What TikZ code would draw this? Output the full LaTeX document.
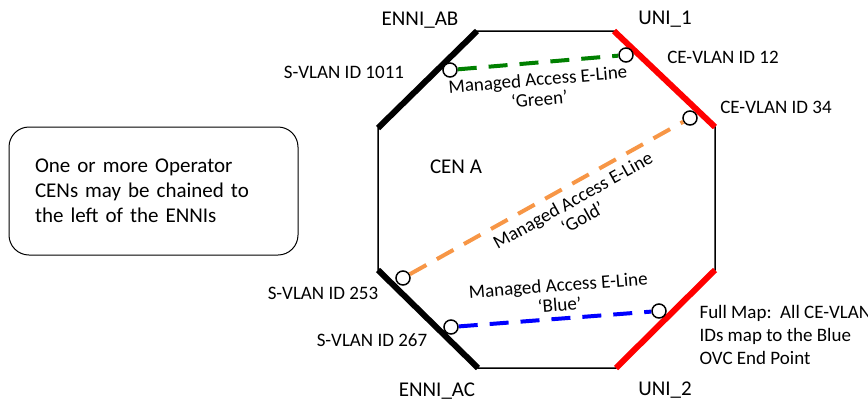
\documentclass[tikz,border=0pt]{standalone}
\usepackage{fontspec}
\setmainfont{Carlito}
\definecolor{gold}{RGB}{247,150,70}
\definecolor{evcgreen}{RGB}{0,128,0}

\begin{document}
\begin{tikzpicture}[x=1pt,y=-1pt,
    endpt/.style={circle,draw,fill=white,inner sep=0pt,minimum size=14pt,line width=1.5pt},
    evc/.style={line width=4pt,dash pattern=on 19pt off 12pt},
    ifc/.style={line width=6pt},
    lbl/.style={font=\fontsize{19}{20}\selectfont,text=black},
    big/.style={font=\fontsize{21}{24}\selectfont}]

\useasboundingbox (0,0) rectangle (868,400);

% corners of CEN A
\coordinate (LT) at (378,128);
\coordinate (TL) at (477,31);
\coordinate (TR) at (614,31);
\coordinate (RT) at (715,127);
\coordinate (RB) at (715,270);
\coordinate (BR) at (616,368);
\coordinate (BL) at (478,368);
\coordinate (LB) at (378,270);

\draw[line width=1.5pt] (LT) -- (TL) -- (TR) -- (RT) -- (RB) -- (BR) -- (BL) -- (LB) -- cycle;

% interfaces
\draw[ifc] (LT) -- (TL);
\draw[ifc,red] (TR) -- (RT);
\draw[ifc,red] (RB) -- (BR);
\draw[ifc] (LB) -- (BL);

% OVC end points
\node[endpt] (G1) at (450,70) {};
\node[endpt] (G2) at (626,55) {};
\node[endpt] (O1) at (403,278) {};
\node[endpt] (O2) at (690,118) {};
\node[endpt] (B1) at (451,327) {};
\node[endpt] (B2) at (659,311) {};

\path[every node/.style={lbl,align=center,sloped,inner sep=2pt}]
(G1) edge[evc,evcgreen] node[pos=0.49,below=6pt] {Managed Access E-Line\\‘Green’} (G2)
(O1) edge[evc,gold] node[pos=0.57,below=4pt] {Managed Access E-Line\\‘Gold’} (O2)
(B1) edge[evc,blue] node[pos=0.53,above=3pt] {Managed Access E-Line\\‘Blue’} (B2);

% labels
\node[big] (AB) at (420,20) {ENNI\_AB};
\node[big] (U1) at (665,19) {UNI\_1};
\node[big] (AC) at (437,391) {ENNI\_AC};
\node[big] (U2) at (665,390) {UNI\_2};
\node[big] (CEN) at (456,167) {CEN A};

\node[lbl] (V1011) at (344,72) {S-VLAN ID 1011};
\node[lbl] (V253) at (323,293) {S-VLAN ID 253};
\node[lbl] (V267) at (372,340) {S-VLAN ID 267};
\node[lbl] (C12) at (723,57) {CE-VLAN ID 12};
\node[lbl] (C34) at (776,107) {CE-VLAN ID 34};
\node[lbl,align=left,anchor=west,font=\fontsize{19}{23}\selectfont] (FM) at (696,335)
  {Full Map:\ \ All CE-VLAN\\IDs map to the Blue\\OVC End Point};

\node[draw,line width=1pt,rounded corners=20pt,minimum width=289pt,minimum height=128pt,
  text width=237pt,align=left,font=\fontsize{21}{25}\selectfont] (note) at (153.5,191)
  {One or more Operator\\CENs may be chained to\\the left of the ENNIs};

\end{tikzpicture}
\end{document}
